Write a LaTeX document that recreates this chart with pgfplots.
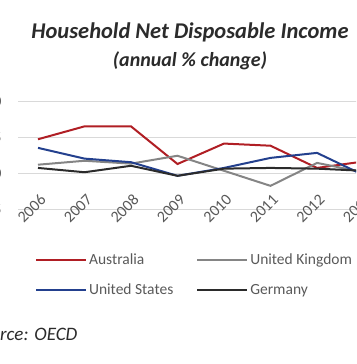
\documentclass[border=0pt]{standalone}
\usepackage{fontspec}
\setmainfont{Carlito}
\usepackage{pgfplots}
\pgfplotsset{compat=1.18}
\definecolor{aus}{HTML}{B01E24}
\definecolor{uk}{HTML}{858585}
\definecolor{us}{HTML}{23408E}
\definecolor{de}{HTML}{2B2B2B}
\definecolor{gridc}{HTML}{D9D9D9}
\definecolor{txt}{HTML}{595959}
\tikzset{yearlab/.style={font=\fontsize{16}{16}\selectfont, text=txt, rotate=45, anchor=center, inner sep=0pt}}
\begin{document}
\begin{tikzpicture}[x=1pt,y=1pt]
\path[use as bounding box] (0,0) rectangle (356,364);
\clip (0,0) rectangle (356,364);
\begin{axis}[
  at={(18pt,154.5pt)}, anchor=south west,
  scale only axis, width=365.5pt, height=107.5pt,
  xmin=2005.57, xmax=2013.43, ymin=-5, ymax=10,
  clip=false,
  xtick={2006,2007,2008,2009,2010,2011,2012,2013},
  xticklabels={},
  ytick={-5,0,5,10},
  axis line style={draw=none},
  tick style={draw=none},
  ymajorgrids, grid style={gridc, line width=1pt},
  /pgf/number format/assume math mode=true,
  y tick label style={font=\fontsize{15.5}{16}\selectfont, text=txt, xshift=-13pt},
  legend columns=2,
  legend cell align=left,
  legend image code/.code={\draw[#1] (0pt,0pt) -- (50pt,0pt);},
  legend style={at={(0.038,-0.37)}, anchor=north west, draw=none, fill=none,
    font=\fontsize{15.5}{16}\selectfont, text=txt, row sep=14pt,
    /tikz/every even column/.append style={column sep=21pt}},
]
\addplot[aus, line width=2pt] coordinates {(2006,4.8) (2007,6.6) (2008,6.6) (2009,1.35) (2010,4.2) (2011,3.9) (2012,0.8) (2013,1.7)};
\addlegendentry{Australia}
\addplot[uk, line width=2pt] coordinates {(2006,1.25) (2007,1.8) (2008,1.4) (2009,2.5) (2010,0.4) (2011,-1.7) (2012,1.5) (2013,0.2)};
\addlegendentry{United Kingdom}
\addplot[us, line width=2pt] coordinates {(2006,3.6) (2007,2.1) (2008,1.6) (2009,-0.3) (2010,0.8) (2011,2.2) (2012,2.9) (2013,-0.2)};
\addlegendentry{United States}
\addplot[de, line width=2pt] coordinates {(2006,0.8) (2007,0.2) (2008,1.1) (2009,-0.3) (2010,0.7) (2011,0.8) (2012,0.7) (2013,0.4)};
\addlegendentry{Germany}
\node[yearlab] at ([xshift=-6.5pt,yshift=1pt]axis cs:2006,-5) {2006};
\node[yearlab] at ([xshift=-6.5pt,yshift=1pt]axis cs:2007,-5) {2007};
\node[yearlab] at ([xshift=-6.5pt,yshift=1pt]axis cs:2008,-5) {2008};
\node[yearlab] at ([xshift=-6.5pt,yshift=1pt]axis cs:2009,-5) {2009};
\node[yearlab] at ([xshift=-6.5pt,yshift=1pt]axis cs:2010,-5) {2010};
\node[yearlab] at ([xshift=-6.5pt,yshift=1pt]axis cs:2011,-5) {2011};
\node[yearlab] at ([xshift=-6.5pt,yshift=1pt]axis cs:2012,-5) {2012};
\node[yearlab] at ([xshift=-6.5pt,yshift=1pt]axis cs:2013,-5) {2013};
\end{axis}
\node[anchor=base, inner sep=0, text=de, font=\fontsize{22.5}{23}\selectfont\bfseries\itshape] at (190,325.7) {Household Net Disposable Income};
\node[anchor=base, inner sep=0, text=de, font=\fontsize{20}{21}\selectfont\bfseries\itshape] at (190,297.5) {(annual \% change)};
\node[anchor=base west, inner sep=0, text=de, font=\fontsize{19}{20}\selectfont\itshape] at (0,23.5) {\llap{Sou}rce: OECD};
\end{tikzpicture}
\end{document}
